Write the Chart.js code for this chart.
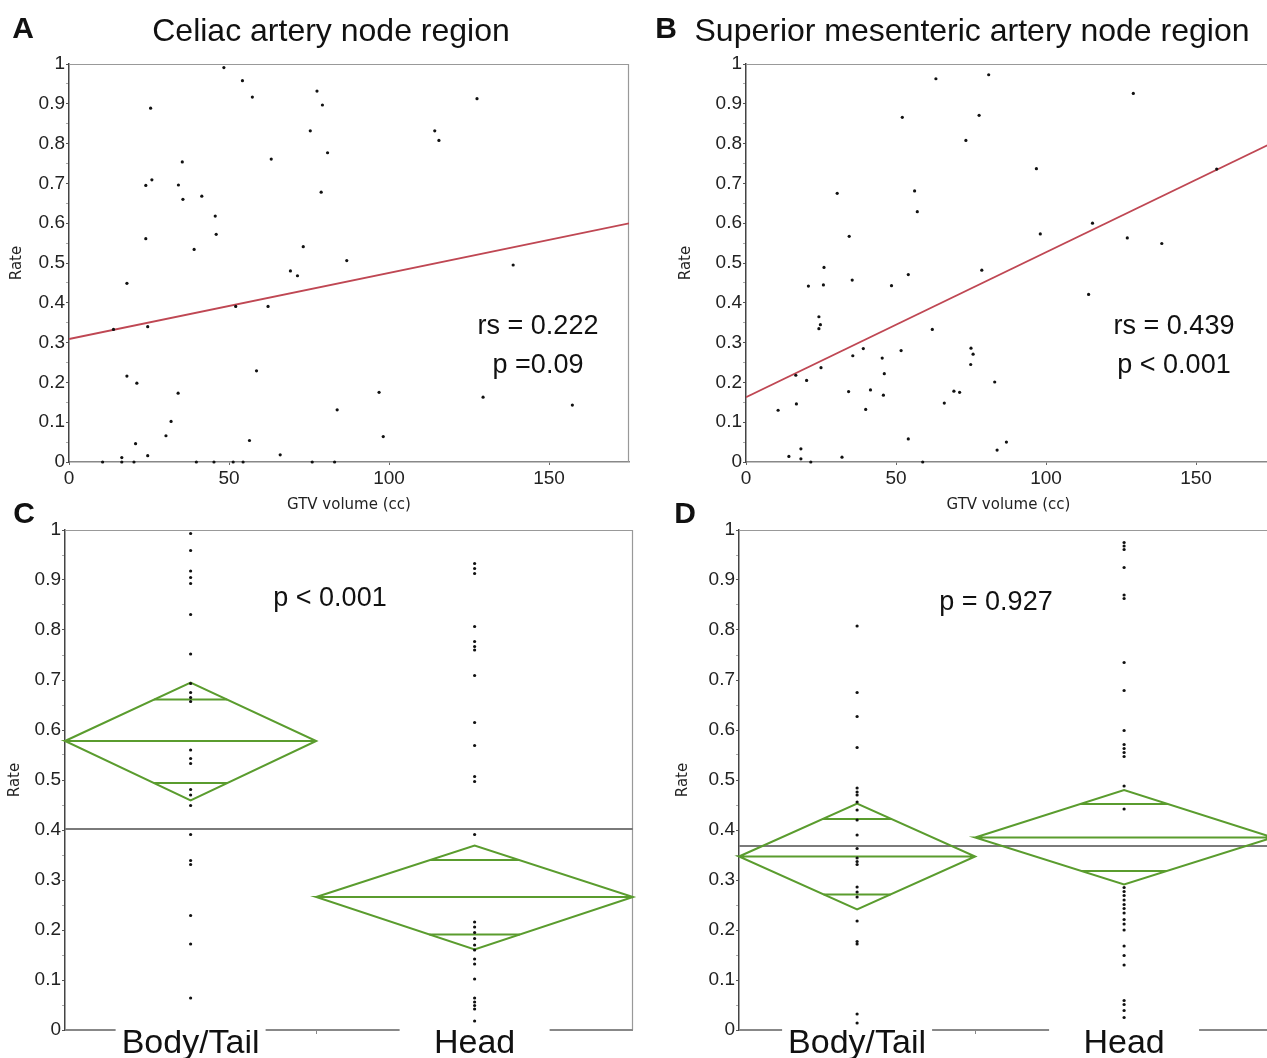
<!DOCTYPE html>
<html>
<head>
<meta charset="utf-8">
<script src="https://cdn.jsdelivr.net/npm/chart.js@4.4.1/dist/chart.umd.min.js"></script>
<style>
html,body{margin:0;padding:0;background:#fff;}
body{width:1267px;height:1058px;overflow:hidden;position:relative;}
canvas{position:absolute;}
.lbl{position:absolute;transform:translate(-50%,-50%);line-height:1;white-space:nowrap;
  font-family:"Liberation Sans",Arial,sans-serif;color:#111;z-index:5;}
.letter{font-weight:bold;font-size:30px;}
.title{font-size:32px;}
.ann{font-size:27px;}
</style>
</head>
<body>
<canvas id="cA" width="640" height="520" style="left:0px;top:0px"></canvas>
<canvas id="cB" width="605" height="520" style="left:677px;top:0px"></canvas>
<canvas id="cC" width="640" height="548" style="left:0px;top:510px"></canvas>
<canvas id="cD" width="606" height="548" style="left:674px;top:510px"></canvas>

<div class="lbl letter" style="left:23px;top:28px">A</div>
<div class="lbl title" style="left:331px;top:30px">Celiac artery node region</div>
<div class="lbl letter" style="left:666px;top:28px">B</div>
<div class="lbl title" style="left:972px;top:30px">Superior mesenteric artery node region</div>
<div class="lbl ann" style="left:538px;top:325px">rs = 0.222</div>
<div class="lbl ann" style="left:538px;top:364px">p =0.09</div>
<div class="lbl ann" style="left:1174px;top:325px">rs = 0.439</div>
<div class="lbl ann" style="left:1174px;top:364px">p &lt; 0.001</div>
<div class="lbl letter" style="left:24px;top:513px">C</div>
<div class="lbl letter" style="left:685px;top:513px">D</div>
<div class="lbl ann" style="left:330px;top:597px">p &lt; 0.001</div>
<div class="lbl ann" style="left:996px;top:601px">p = 0.927</div>

<script>
// ---------------- data ----------------
const rateTicks  = [0, 0.1, 0.2, 0.3, 0.4, 0.5, 0.6, 0.7, 0.8, 0.9, 1];
const rateLabels = ['0','0.1','0.2','0.3','0.4','0.5','0.6','0.7','0.8','0.9','1'];
const gtvTicks   = [0, 50, 100, 150];
const gtvLabels  = ['0','50','100','150'];

// Panel A: celiac artery node region
const celiacGTV = [48.4,54.2,57.3,77.5,79.2,25.5,127.5,75.4,114.3,115.6,35.4,63.2,80.8,24.0,25.9,34.2,78.8,35.6,41.5,45.7,
  46.0,24.0,39.1,73.2,86.8,69.2,71.4,138.8,18.1,52.1,62.2,13.9,24.6,18.1,21.2,34.1,58.6,31.9,30.3,20.8,
  16.5,24.6,56.4,66.0,83.8,96.9,98.2,129.4,157.3,10.5,16.5,20.3,39.8,45.3,51.3,54.4,76.0,83.0];
const celiacRate = [0.991,0.958,0.917,0.932,0.897,0.889,0.913,0.832,0.832,0.808,0.754,0.761,0.777,0.695,0.709,0.696,0.678,0.660,0.668,0.618,
  0.572,0.561,0.534,0.541,0.506,0.480,0.468,0.495,0.449,0.391,0.391,0.333,0.340,0.216,0.198,0.173,0.229,0.102,0.066,0.046,
  0.011,0.016,0.054,0.018,0.131,0.175,0.064,0.163,0.143,0,0,0,0,0,0,0,0,0];

// Panel B: superior mesenteric artery node region
const smaGTV = [63.3,80.9,129.1,52.1,77.7,73.3,96.8,156.9,30.4,56.2,57.1,34.4,98.1,115.5,127.1,138.6,26.0,54.1,78.6,20.8,
  25.8,35.4,48.5,114.2,24.3,24.8,24.3,62.1,39.1,51.7,35.6,45.4,75.0,75.7,74.9,25.0,46.1,16.6,20.2,82.9,
  34.2,41.5,69.3,71.2,45.8,66.1,16.8,10.7,39.9,54.1,86.8,83.7,18.3,14.3,18.3,32.0,21.6,58.9];
const smaRate = [0.963,0.973,0.926,0.866,0.871,0.808,0.737,0.736,0.675,0.681,0.629,0.567,0.573,0.600,0.563,0.549,0.489,0.471,0.482,0.442,
  0.445,0.457,0.443,0.421,0.365,0.345,0.335,0.333,0.285,0.280,0.267,0.261,0.286,0.271,0.245,0.237,0.222,0.218,0.205,0.201,
  0.177,0.181,0.178,0.175,0.168,0.148,0.146,0.130,0.132,0.058,0.050,0.030,0.033,0.014,0.008,0.012,0,0];

// fitted lines (intercept, slope) for A and B
const fitIntercept = [0.309, 0.163];
const fitSlope     = [0.00166, 0.00364];
const gtvMax = 175;

// Panels C and D: groups
const groups    = ['Body/Tail', 'Head'];
const groupSize = [23, 29];

const celiacBodyTail = [0.993,0.959,0.918,0.905,0.893,0.831,0.752,0.693,0.675,0.665,0.657,0.560,0.543,0.533,0.481,0.470,0.449,0.391,0.339,0.331,0.229,0.172,0.064];
const celiacHead     = [0.933,0.923,0.913,0.807,0.777,0.767,0.760,0.709,0.615,0.569,0.507,0.497,0.391,0.216,0.206,0.195,0.183,0.170,0.160,0.142,0.132,0.102,0.064,0.056,0.049,0.042,0.018];
const smaBodyTail    = [0.808,0.675,0.627,0.565,0.484,0.476,0.470,0.456,0.440,0.420,0.390,0.363,0.344,0.337,0.331,0.286,0.276,0.266,0.218,0.177,0.172,0.032,0.014];
const smaHead        = [0.975,0.968,0.961,0.925,0.870,0.863,0.735,0.679,0.599,0.571,0.563,0.555,0.547,0.488,0.442,0.285,0.277,0.269,0.260,0.251,0.243,0.234,0.221,0.212,0.200,0.168,0.149,0.130,0.059,0.051,0.039,0.025];

// means diamonds: mean, CI low/high, overlap marks low/high
const celiacMean   = [0.578, 0.266];
const celiacCILow  = [0.459, 0.161];
const celiacCIHigh = [0.695, 0.369];
const celiacOvLow  = [0.494, 0.191];
const celiacOvHigh = [0.661, 0.340];
const celiacGrand  = 0.402;

const smaMean   = [0.347, 0.385];
const smaCILow  = [0.241, 0.291];
const smaCIHigh = [0.453, 0.480];
const smaOvLow  = [0.271, 0.318];
const smaOvHigh = [0.422, 0.452];
const smaGrand  = 0.368;

// ---------------- styling / helpers ----------------
Chart.defaults.font.family = '"Liberation Sans", Arial, sans-serif';
Chart.defaults.color = '#222';
Chart.defaults.animation = false;

const tickFont  = { family: '"Liberation Sans", Arial, sans-serif', size: 19 };
const axisTitleFont = { family: '"DejaVu Sans", Verdana, sans-serif', size: 15 };
const GREEN = '#5a9c2e';
const RED = '#bf4753';
const CAT_BOX = 150; // width of the gap left in the axis line around a category label

const framePlugin = {
  id: 'frame',
  beforeDatasetsDraw(chart) {
    const { ctx, chartArea: { left, right, top, bottom } } = chart;
    ctx.save();
    ctx.strokeStyle = '#999';
    ctx.lineWidth = 1.2;
    ctx.beginPath();
    ctx.moveTo(left, top + 0.5);
    ctx.lineTo(right - 0.5, top + 0.5);
    ctx.lineTo(right - 0.5, bottom);
    ctx.stroke();
    ctx.restore();
  }
};

// bottom axis line broken around the category labels (panels C, D)
const gapAxisPlugin = {
  id: 'gapAxis',
  beforeDatasetsDraw(chart) {
    const sx = chart.scales.x;
    const { ctx, chartArea: { left, right, bottom } } = chart;
    const centers = (chart.$centers || []).map(v => sx.getPixelForValue(v));
    let segs = [], s = left;
    centers.forEach(c => { segs.push([s, c - CAT_BOX / 2]); s = c + CAT_BOX / 2; });
    segs.push([s, right]);
    ctx.save();
    ctx.strokeStyle = '#888';
    ctx.lineWidth = 2;
    ctx.beginPath();
    segs.forEach(([a, b]) => { if (b > a) { ctx.moveTo(a, bottom); ctx.lineTo(b, bottom); } });
    ctx.stroke();
    ctx.restore();
  }
};

function rateLabel(v) {
  const j = rateTicks.findIndex(t => Math.abs(t - v) < 1e-6);
  return j >= 0 ? rateLabels[j] : '';
}
const rateTicksMinor = rateTicks.flatMap((v, i) => i ? [(v + rateTicks[i - 1]) / 2, v] : [v]);

function yAxis(width, titlePad) {
  return {
    type: 'linear', min: 0, max: 1,
    afterBuildTicks: s => { s.ticks = rateTicksMinor.map(v => ({ value: v })); },
    afterFit: s => { s.width = width; },
    grid: { display: true, drawOnChartArea: false, drawTicks: true, tickLength: 3,
            color: ctx => (ctx.tick && rateLabel(ctx.tick.value) === '') ? '#aaa' : '#555' },
    border: { display: true, color: '#444', width: 1.5 },
    ticks: { padding: 1, font: tickFont, color: '#222', autoSkip: false, callback: v => rateLabel(v) },
    title: { display: true, text: 'Rate', font: axisTitleFont, color: '#222', padding: { top: titlePad, bottom: 0 } }
  };
}

function scatterChart(id, xs, ys, k, titlePad) {
  const pts = xs.map((x, i) => ({ x: x, y: ys[i] }));
  const fit = [{ x: 0, y: fitIntercept[k] }, { x: gtvMax, y: fitIntercept[k] + fitSlope[k] * gtvMax }];
  return new Chart(document.getElementById(id), {
    type: 'scatter',
    data: { datasets: [
      { data: pts, pointRadius: 1.6, pointBackgroundColor: '#111', pointBorderWidth: 0, clip: false },
      { data: fit, showLine: true, pointRadius: 0, borderColor: RED, borderWidth: 1.8 }
    ]},
    options: {
      responsive: false, animation: false, events: [],
      layout: { padding: { top: 64, right: 11, left: 0, bottom: 0 } },
      plugins: { legend: { display: false }, tooltip: { enabled: false } },
      scales: {
        x: {
          type: 'linear', min: 0, max: gtvMax,
          afterBuildTicks: s => { s.ticks = gtvTicks.map(v => ({ value: v })); },
          afterFit: s => { s.height = 58; },
          grid: { display: true, drawOnChartArea: false, drawTicks: true, tickLength: 3, color: '#666' },
          border: { display: true, color: '#888', width: 1.5 },
          ticks: { padding: 2, font: tickFont, color: '#222', maxRotation: 0, autoSkip: false,
                   callback: v => { const j = gtvTicks.indexOf(v); return j >= 0 ? gtvLabels[j] : ''; } },
          title: { display: true, text: 'GTV volume (cc)', font: axisTitleFont, color: '#222', padding: { top: 0, bottom: 6 } }
        },
        y: yAxis(69, titlePad)
      }
    },
    plugins: [framePlugin]
  });
}

const catFont = { family: '"Liberation Sans", Arial, sans-serif', size: 34 };

function meansChart(id, dotsArr, mean, lo, hi, ovLo, ovHi, grand, titlePad) {
  const total = groupSize.reduce((a, b) => a + b, 0);
  const centers = [], bounds = [];
  let start = 0;
  groupSize.forEach(n => { centers.push(start + n / 2); start += n; bounds.push(start); });
  const tickVals = [centers[0], bounds[0], centers[1]];
  const datasets = [];
  dotsArr.forEach((arr, g) => {
    datasets.push({ data: arr.map(v => ({ x: centers[g], y: v })), pointRadius: 1.6,
      pointBackgroundColor: '#111', pointBorderWidth: 0, clip: false });
  });
  const lineDs = (data, color, w) => ({ data, showLine: true, pointRadius: 0, borderColor: color,
    borderWidth: w, borderJoinStyle: 'miter', clip: false });
  groupSize.forEach((n, g) => {
    const x0 = bounds[g] - n, x1 = bounds[g], xc = centers[g], half = n / 2;
    datasets.push(lineDs([
      { x: x0, y: mean[g] }, { x: xc, y: hi[g] }, { x: x1, y: mean[g] }, { x: xc, y: lo[g] },
      { x: x0, y: mean[g] }, { x: x1, y: mean[g] }], GREEN, 2));
    const wHi = half * (hi[g] - ovHi[g]) / (hi[g] - mean[g]);
    const wLo = half * (ovLo[g] - lo[g]) / (mean[g] - lo[g]);
    datasets.push(lineDs([{ x: xc - wHi, y: ovHi[g] }, { x: xc + wHi, y: ovHi[g] }], GREEN, 2));
    datasets.push(lineDs([{ x: xc - wLo, y: ovLo[g] }, { x: xc + wLo, y: ovLo[g] }], GREEN, 2));
  });
  datasets.push(lineDs([{ x: 0, y: grand }, { x: total, y: grand }], '#7a7a7a', 2));

  const catLabel = v => { const j = centers.findIndex(c => Math.abs(c - v) < 1e-6); return j >= 0 ? groups[j] : ''; };

  const chart = new Chart(document.getElementById(id), {
    type: 'scatter',
    data: { datasets },
    options: {
      responsive: false, animation: false, events: [],
      layout: { padding: { top: 20, right: 7, left: 0, bottom: 0 } },
      plugins: { legend: { display: false }, tooltip: { enabled: false } },
      scales: {
        x: {
          type: 'linear', min: 0, max: total,
          afterBuildTicks: s => { s.ticks = tickVals.map(v => ({ value: v })); },
          afterFit: s => { s.height = 28; },
          grid: { display: true, drawOnChartArea: false, drawTicks: true, tickLength: 4,
                  color: ctx => (ctx.tick && catLabel(ctx.tick.value) !== '') ? 'rgba(0,0,0,0)' : '#888' },
          border: { display: false },
          ticks: {
            padding: -11, font: catFont, color: '#111', maxRotation: 0, autoSkip: false,
            callback: v => catLabel(v)
          }
        },
        y: yAxis(65, titlePad)
      }
    },
    plugins: [framePlugin, gapAxisPlugin]
  });
  chart.$centers = centers;
  chart.draw();
  return chart;
}

scatterChart('cA', celiacGTV, celiacRate, 0, 8);
scatterChart('cB', smaGTV, smaRate, 1, 0);
meansChart('cC', [celiacBodyTail, celiacHead], celiacMean, celiacCILow, celiacCIHigh, celiacOvLow, celiacOvHigh, celiacGrand, 6);
meansChart('cD', [smaBodyTail, smaHead], smaMean, smaCILow, smaCIHigh, smaOvLow, smaOvHigh, smaGrand, 0);
</script>
</body>
</html>
